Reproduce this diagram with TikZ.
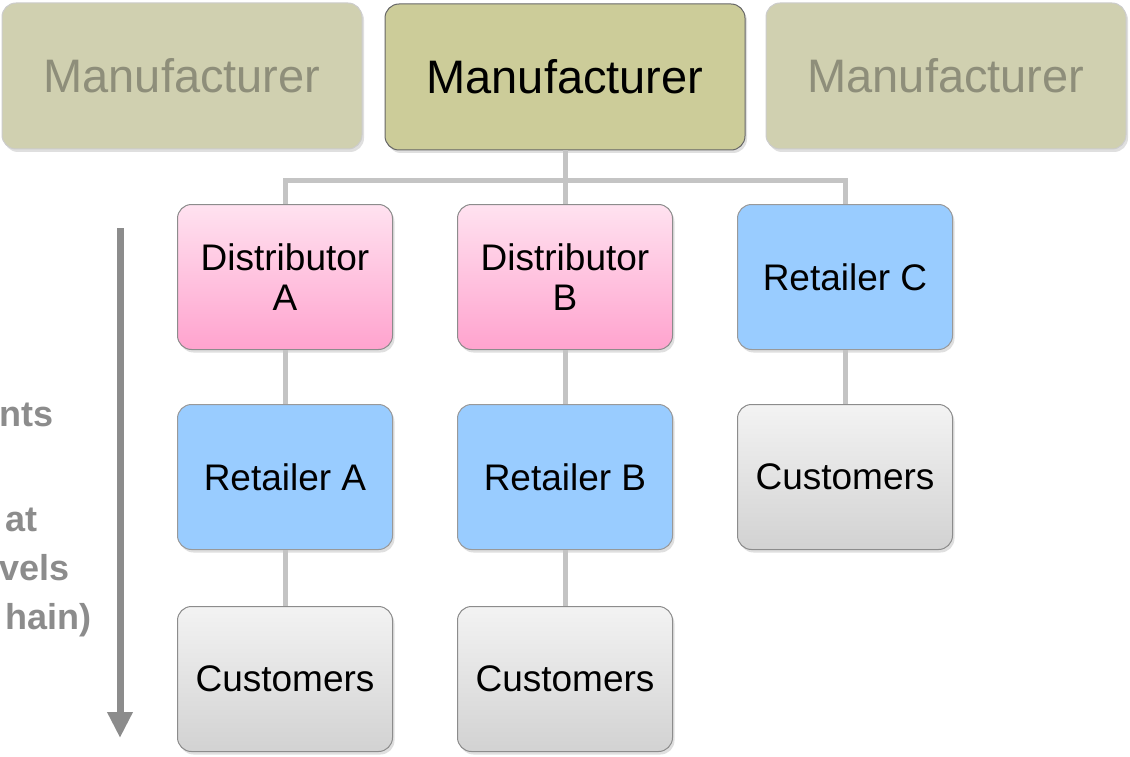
\documentclass[tikz,border=0pt]{standalone}
\usepackage{fontspec}
\setmainfont{Liberation Sans}
\usetikzlibrary{arrows.meta,shadows}
\definecolor{mfrfill}{HTML}{CCCC99}
\definecolor{mfrfade}{HTML}{D0D0B0}
\definecolor{mfrtext}{HTML}{8E8E7A}
\definecolor{distop}{HTML}{FFE2F0}
\definecolor{disbot}{HTML}{FFA3CE}
\definecolor{retfill}{HTML}{99CCFF}
\definecolor{custop}{HTML}{F3F3F3}
\definecolor{cusbot}{HTML}{D2D2D2}
\definecolor{link}{HTML}{C4C4C4}
\definecolor{side}{HTML}{8C8C8C}
\begin{document}
\begin{tikzpicture}[x=1pt,y=-1pt,
    box/.style={draw, rounded corners=14pt, line width=1pt, align=center,
      minimum width=215pt, minimum height=145pt,
      font=\fontsize{37}{40}\selectfont,
      drop shadow={opacity=0.25, shadow xshift=2pt, shadow yshift=-3pt}},
    mfr/.style={box, minimum width=360pt, minimum height=146pt,
      font=\fontsize{47}{50}\selectfont},
    dist/.style={box, draw=black!45, top color=distop, bottom color=disbot},
    ret/.style={box, draw=black!40, fill=retfill},
    cust/.style={box, draw=black!45, top color=custop, bottom color=cusbot},
    sidetext/.style={anchor=base east, inner sep=0pt, text=side,
      font=\bfseries\fontsize{36}{40}\selectfont}]
  \useasboundingbox (0,0) rectangle (1130,757);
  \draw
    (182,76) node[mfr, draw=black!20, fill=mfrfade, text=mfrtext] (mfrL){Manufacturer}
    (565,77) node[mfr, draw=black!60, fill=mfrfill] (mfr){Manufacturer}
    (946,76) node[mfr, draw=black!20, fill=mfrfade, text=mfrtext] (mfrR){Manufacturer}
    (285,277) node[dist] (distA){Distributor\\A}
    (565,277) node[dist] (distB){Distributor\\B}
    (845,277) node[ret] (retC){Retailer C}
    (285,477) node[ret] (retA){Retailer A}
    (565,477) node[ret] (retB){Retailer B}
    (845,477) node[cust] (custC){Customers}
    (285,679) node[cust] (custA){Customers}
    (565,679) node[cust] (custB){Customers};
  \coordinate (bus) at (565,180);
  \begin{scope}[link, line width=5pt]
    \draw (mfr.south) -- (bus);
    \draw (bus) -| (distA.north);
    \draw (bus) -- (distB.north);
    \draw (bus) -| (retC.north);
    \draw (distA.south) -- (retA.north);
    \draw (distB.south) -- (retB.north);
    \draw (retC.south) -- (custC.north);
    \draw (retA.south) -- (custA.north);
    \draw (retB.south) -- (custB.north);
  \end{scope}
  \coordinate (arrTop) at (120,228);
  \coordinate (arrBot) at (120,738);
  \draw[side, line width=7pt, -{Triangle[length=26pt,width=24pt]}] (arrTop) -- (arrBot);
  \node[sidetext] (t1) at (54,426) {nts};
  \node[sidetext] (t2) at (38,531) {at};
  \node[sidetext] (t3) at (70,580) {vels};
  \node[sidetext] (t4) at (92,629) {hain)};
\end{tikzpicture}
\end{document}
